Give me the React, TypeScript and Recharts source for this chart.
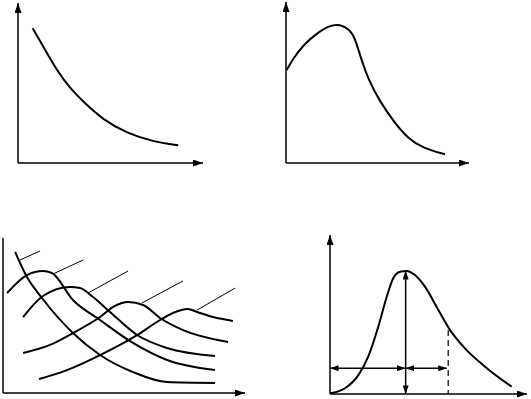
import React from 'react';
import { LineChart, Line, XAxis, YAxis } from 'recharts';

// Panel 1: decreasing curve
const p1X = [7.9, 13.7, 20.9, 28.1, 35.3, 46.1, 58.8, 73.1, 86.6];
const p1Y = [84.2, 72.7, 58.1, 46.7, 38.3, 26.9, 18.6, 13.3, 11.1];

// Panel 2: hump curve
const p2X = [0.4, 4.0, 9.5, 16.8, 24.0, 29.5, 35.0, 37.7, 40.4, 45.0, 51.4, 58.9, 66.5, 75.0, 86.9];
const p2Y = [57.8, 65.0, 73.3, 80.6, 85.6, 86.2, 82.8, 77.5, 67.1, 51.6, 38.1, 25.7, 15.3, 9.1, 5.4];

// Panel 3: family of curves
const aX = [5.0, 9.9, 16.1, 28.9, 40.1, 53.7, 67.8, 87.6];
const aY = [91.0, 74.8, 61.3, 38.7, 24.5, 13.5, 7.1, 6.5];
const bX = [1.7, 9.9, 16.5, 20.2, 28.9, 40.1, 53.7, 67.8, 87.6];
const bY = [64.5, 76.1, 78.7, 77.4, 60.0, 47.1, 32.3, 21.3, 14.8];
const cX = [8.3, 16.5, 27.7, 31.8, 37.2, 44.2, 55.4, 67.8, 87.6];
const cY = [49.0, 62.6, 68.4, 67.7, 61.9, 52.3, 37.4, 29.0, 23.9];
const dX = [8.3, 19.4, 28.9, 40.1, 45.5, 51.7, 57.9, 64.9, 74.4, 93.0];
const dY = [25.8, 31.0, 38.7, 49.0, 55.5, 58.7, 56.8, 48.4, 40.6, 32.9];
const eX = [14.9, 26.4, 40.1, 55.4, 64.9, 70.2, 76.4, 80.2, 86.8, 95.0];
const eY = [9.0, 14.8, 24.5, 37.4, 47.1, 51.6, 54.2, 52.3, 49.0, 46.5];
const leaderX = [[7.0, 15.3], [20.7, 33.1], [35.1, 51.7], [57.4, 74.4], [80.2, 95.9]];
const leaderY = [[85.8, 91.6], [76.8, 85.8], [64.5, 78.7], [58.1, 72.3], [53.5, 67.7]];

// Panel 4: skewed peak with annotations
const p4X = [0, 7.6, 14.4, 19.4, 24.5, 28.8, 32.1, 35.5, 38.9, 43.1, 48.2, 55.0, 60.9, 68.5, 78.7, 92.2];
const p4Y = [0.4, 3.6, 11.9, 23.5, 42.3, 61.2, 72.8, 76.9, 77.4, 74.8, 67.5, 52.8, 40.3, 28.7, 17.2, 4.6];
const peakX = 38.4;
const peakY = 77.4;
const arrowLevel = 16.2;
const arrowEnd = 59.3;
const dashX = 60.0;
const dashTop = 40.3;

const pts = (xs: number[], ys: number[]) => xs.map((x, i) => ({ x, y: ys[i] }));

const BLACK = '#000';

function Panel({ left, top, w, h, yArrow = true, children }: any) {
  const m = 10;
  return (
    <div style={{ position: 'absolute', left: left - m, top: top - m }}>
      <LineChart
        width={w + 2 * m}
        height={h + 2 * m}
        margin={{ top: m, right: m, bottom: m - 1, left: m - 1 }}
        style={{ overflow: 'visible' }}
      >
        <XAxis
          type="number"
          dataKey="x"
          domain={[0, 100]}
          allowDataOverflow
          height={1}
          tick={false}
          tickLine={false}
          axisLine={{ stroke: BLACK, strokeWidth: 1.5, markerEnd: 'url(#axArrow)' }}
        />
        <YAxis
          type="number"
          dataKey="y"
          domain={[0, 100]}
          allowDataOverflow
          width={1}
          tick={false}
          tickLine={false}
          axisLine={yArrow ? { stroke: BLACK, strokeWidth: 1.5, markerStart: 'url(#axArrow)' } : { stroke: BLACK, strokeWidth: 1.5 }}
        />
        {children}
      </LineChart>
    </div>
  );
}

const curve = (data: any[], key: string, kind: any = 'monotone', width = 2) => (
  <Line
    key={key}
    data={data}
    dataKey="y"
    type={kind}
    dot={false}
    activeDot={false}
    stroke={BLACK}
    strokeWidth={width}
    isAnimationActive={false}
  />
);

const straight = (data: any[], key: string, extra: any = {}) => (
  <Line
    key={key}
    data={data}
    dataKey="y"
    type="linear"
    dot={false}
    activeDot={false}
    stroke={BLACK}
    strokeWidth={1.5}
    isAnimationActive={false}
    {...extra}
  />
);

export default function App() {
  return (
    <div style={{ position: 'absolute', left: 0, top: 0, width: 531, height: 399, background: '#fff', overflow: 'hidden' }}>
      <svg width={0} height={0} style={{ position: 'absolute' }}>
        <defs>
          <marker id="axArrow" viewBox="0 0 10 7" refX={10} refY={3.5} markerWidth={10} markerHeight={7} markerUnits="userSpaceOnUse" orient="auto-start-reverse">
            <path d="M0,0 L10,3.5 L0,7 z" fill={BLACK} />
          </marker>
          <marker id="smArrow" viewBox="0 0 10 7" refX={10} refY={3.5} markerWidth={9} markerHeight={6} markerUnits="userSpaceOnUse" orient="auto-start-reverse">
            <path d="M0,0 L10,3.5 L0,7 z" fill={BLACK} />
          </marker>
        </defs>
      </svg>

      <Panel left={18} top={3} w={185} h={160}>
        {curve(pts(p1X, p1Y), 'p1', 'basis')}
      </Panel>

      <Panel left={286} top={2} w={183} h={161}>
        {curve(pts(p2X, p2Y), 'p2', 'basis')}
      </Panel>

      <Panel left={3} top={238} w={242} h={155} yArrow={false}>
        {curve(pts(aX, aY), 'a')}
        {curve(pts(bX, bY), 'b')}
        {curve(pts(cX, cY), 'c')}
        {curve(pts(dX, dY), 'd')}
        {curve(pts(eX, eY), 'e')}
        {leaderX.map((xs, i) => straight(pts(xs, leaderY[i]), 'l' + i, { strokeWidth: 1 }))}
      </Panel>

      <Panel left={330} top={235} w={197} h={159}>
        {curve(pts(p4X, p4Y), 'p4')}
        {straight(pts([peakX, peakX], [peakY, 0]), 'v', { markerStart: 'url(#smArrow)', markerEnd: 'url(#smArrow)' })}
        {straight(pts([0, peakX], [arrowLevel, arrowLevel]), 'h1', { markerStart: 'url(#smArrow)', markerEnd: 'url(#smArrow)' })}
        {straight(pts([peakX, arrowEnd], [arrowLevel, arrowLevel]), 'h2', { markerStart: 'url(#smArrow)', markerEnd: 'url(#smArrow)' })}
        {straight(pts([dashX, dashX], [dashTop, 0]), 'dash', { strokeWidth: 1.2, strokeDasharray: '6 4' })}
      </Panel>
    </div>
  );
}
